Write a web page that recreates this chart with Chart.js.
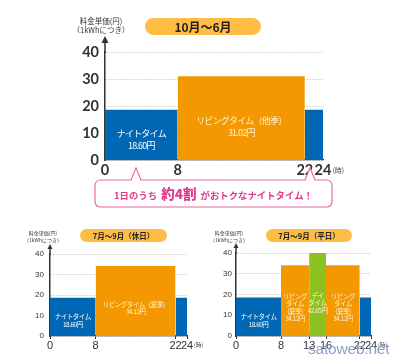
<!DOCTYPE html>
<html>
<head>
<meta charset="utf-8">
<script src="https://cdn.jsdelivr.net/npm/chart.js@4.4.1/dist/chart.umd.min.js"></script>
<style>
html, body { margin: 0; padding: 0; background: #fff; }
#wrap { position: relative; width: 400px; height: 364px; overflow: hidden; font-family: "Noto Sans CJK JP", sans-serif; color: #333; }
canvas { position: absolute; left: 0; top: 0; }
.pill { position: absolute; background: #ffbd45; border-radius: 9px; text-align: center; font-weight: bold; color: #222; white-space: nowrap; }
.ytitle { position: absolute; text-align: center; white-space: nowrap; color: #333; }
#callout { position: absolute; left: 0; top: 0; }
#calloutText { position: absolute; left: 95px; width: 237px; top: 181px; height: 25px; line-height: 25px; text-align: center; color: #e4388d; font-weight: bold; font-size: 9.4px; white-space: nowrap; }
#calloutText b { font-size: 13.5px; margin: 0 2px; }
#mark { position: absolute; left: 308px; top: 340px; font-family: "Liberation Sans", sans-serif; font-size: 15.5px; color: #8d9ec8; letter-spacing: -0.2px; }
</style>
</head>
<body>
<div id="wrap">
  <canvas id="topChart" width="400" height="364"></canvas>
  <canvas id="holidayChart" width="400" height="364"></canvas>
  <canvas id="weekdayChart" width="400" height="364"></canvas>

  <div class="ytitle" style="left:60px;width:82px;top:16px;font-size:7.5px;line-height:9px;">料金単価(円)<br>（1kWhにつき）</div>
  <div class="pill" style="left:145px;top:18px;width:116px;height:17px;line-height:17px;font-size:12px;">10月〜6月</div>

  <div class="ytitle" style="left:23px;width:40px;top:229px;font-size:5px;line-height:7px;">料金単価(円)<br>（1kWhにつき）</div>
  <div class="pill" style="left:80px;top:229px;width:87px;height:13px;line-height:13px;font-size:7.5px;border-radius:7px;">7月〜9月（休日）</div>

  <div class="ytitle" style="left:209px;width:40px;top:229px;font-size:5px;line-height:7px;">料金単価(円)<br>（1kWhにつき）</div>
  <div class="pill" style="left:266px;top:229px;width:86px;height:13px;line-height:13px;font-size:7.5px;border-radius:7px;">7月〜9月（平日）</div>

  <svg id="callout" width="400" height="364">
    <path d="M101,180 H131 L136,168 L141,180 H305 L310,168 L315,180 H326 Q332,180 332,186 V201 Q332,207 326,207 H101 Q95,207 95,201 V186 Q95,180 101,180 Z"
          fill="#fff" stroke="#e86aa9" stroke-width="1.2"/>
  </svg>
  <div id="calloutText">1日のうち <b>約4割</b> がおトクなナイトタイム！</div>

  <div id="mark">satoweb.net</div>
</div>

<script>
// --- data ---
const yTicks = [0, 10, 20, 30, 40];

const topHours = [0, 8, 22, 24];
const topPrices = [18.60, 31.02, 18.60];
const topKinds = ["night", "living", "night"];
const topLabels = ["ナイトタイム\n18.60円", "リビングタイム（他季）\n31.02円", ""];

const holidayHours = [0, 8, 22, 24];
const holidayPrices = [18.60, 34.12, 18.60];
const holidayKinds = ["night", "living", "night"];
const holidayLabels = ["ナイトタイム\n18.60円", "リビングタイム（夏季）\n34.12円", ""];

const weekdayHours = [0, 8, 13, 16, 22, 24];
const weekdayPrices = [18.60, 34.12, 42.65, 34.12, 18.60];
const weekdayKinds = ["night", "living", "day", "living", "night"];
const weekdayLabels = ["ナイトタイム\n18.60円", "リビング\nタイム\n(夏季)\n34.12円", "デイ\nタイム\n42.65円", "リビング\nタイム\n(夏季)\n34.12円", ""];

const colors = { night: "#0067b5", living: "#f39800", day: "#8cc11f" };
const textColors = { night: "#ffffff", living: "#fff3cc", day: "#fff6d8" };

function getDatasets(hours, prices, kinds) {
    // each time band is a flat line filled down to zero
    const datasets = [];
    for (let i = 0; i < prices.length; i++) {
        datasets.push({
            data: [{ x: hours[i], y: prices[i] }, { x: hours[i + 1], y: prices[i] }],
            backgroundColor: colors[kinds[i]],
            borderColor: colors[kinds[i]],
            borderWidth: 0,
            pointRadius: 0,
            fill: "origin",
        });
    }
    return datasets;
}

function drawChart(id, hours, prices, kinds, labels, o) {
    const ctx = document.getElementById(id).getContext("2d");

    const extras = {
        id: "extras_" + id,
        afterDatasetsDraw(chart) {
            const c = chart.ctx;
            const x = chart.scales.x, y = chart.scales.y;
            c.save();
            c.textAlign = "center";
            c.textBaseline = "middle";
            c.font = o.labelFont;
            c.letterSpacing = o.labelSpacing;
            labels.forEach((txt, i) => {
                if (!txt) return;
                const lines = txt.split("\n");
                const cx = x.getPixelForValue((hours[i] + hours[i + 1]) / 2);
                const cy = y.getPixelForValue(Math.min(prices[i], y.max) * 0.4);
                c.fillStyle = textColors[kinds[i]];
                lines.forEach((ln, k) => {
                    c.fillText(ln, cx, cy + (k - (lines.length - 1) / 2) * o.labelLine);
                });
            });
            c.restore();
        },
        afterDraw(chart) {
            const c = chart.ctx;
            const a = chart.chartArea;
            const x = chart.scales.x;
            c.save();
            // axis arrow
            c.strokeStyle = "#333";
            c.fillStyle = "#333";
            c.lineWidth = 1.5;
            c.beginPath();
            c.moveTo(a.left, a.top + 1);
            c.lineTo(a.left, a.top - o.arrowExt + o.arrowSize);
            c.stroke();
            c.beginPath();
            c.moveTo(a.left, a.top - o.arrowExt);
            c.lineTo(a.left - o.arrowSize / 2, a.top - o.arrowExt + o.arrowSize);
            c.lineTo(a.left + o.arrowSize / 2, a.top - o.arrowExt + o.arrowSize);
            c.closePath();
            c.fill();
            // unit after last hour
            c.font = o.tickFont.weight + " " + o.tickFont.size + "px " + o.tickFont.family;
            const last = hours[hours.length - 1];
            const w = c.measureText(String(last)).width;
            c.font = o.unitFont;
            c.fillStyle = "#444";
            c.textAlign = "left";
            c.textBaseline = "middle";
            c.fillText("(時)", x.getPixelForValue(last) + w / 2 + 1, o.unitY);
            c.restore();
        },
    };

    return new Chart(ctx, {
        type: "line",
        data: { datasets: getDatasets(hours, prices, kinds) },
        options: {
            responsive: false,
            animation: false,
            layout: { padding: { left: 0, top: o.area.t, right: 400 - o.area.r, bottom: 0 } },
            plugins: { legend: { display: false }, tooltip: { enabled: false } },
            scales: {
                x: {
                    type: "linear",
                    min: hours[0],
                    max: hours[hours.length - 1],
                    afterBuildTicks: (s) => { s.ticks = hours.map((v) => ({ value: v })); },
                    afterFit: (s) => { s.height = 364 - o.area.b; },
                    grid: { drawOnChartArea: false, drawTicks: o.tickLen > 0, tickLength: o.tickLen, color: "#333" },
                    border: { color: "#333", width: 1.2 },
                    ticks: { font: o.tickFont, color: "#333", padding: o.xPad, maxRotation: 0, autoSkip: false },
                },
                y: {
                    min: 0,
                    max: 40,
                    afterBuildTicks: (s) => { s.ticks = yTicks.map((v) => ({ value: v })); },
                    afterFit: (s) => { s.width = o.area.l; },
                    grid: { drawTicks: false, color: "#b5b5b5", lineWidth: 1 },
                    // in v4 border.dash dashes the grid lines, the axis line stays solid
                    border: { color: "#333", width: 1.5, dash: [1, 2] },
                    ticks: { font: o.yTickFont, color: "#333", padding: o.yPad },
                },
            },
        },
        plugins: [extras],
    });
}

const numFont = "Lato, 'Liberation Sans', sans-serif";
const narrowFont = "'Liberation Sans Narrow', 'Liberation Sans', sans-serif";

drawChart("topChart", topHours, topPrices, topKinds, topLabels, {
    area: { l: 105, t: 52, r: 323, b: 160 },
    tickFont: { family: numFont, size: 14.5, weight: "bold" },
    yTickFont: { family: numFont, size: 14.5, weight: "bold" },
    xPad: 2, yPad: 6, tickLen: 0,
    arrowExt: 16, arrowSize: 7,
    labelFont: "9px 'Noto Sans CJK JP'", labelSpacing: "-0.8px", labelLine: 12,
    unitFont: "7px 'Noto Sans CJK JP'", unitY: 170,
});

drawChart("holidayChart", holidayHours, holidayPrices, holidayKinds, holidayLabels, {
    area: { l: 50, t: 254, r: 187, b: 336 },
    tickFont: { family: narrowFont, size: 11, weight: "normal" },
    yTickFont: { family: narrowFont, size: 8, weight: "normal" },
    xPad: 0, yPad: 6, tickLen: 3,
    arrowExt: 10, arrowSize: 5,
    labelFont: "6.5px 'Noto Sans CJK JP'", labelSpacing: "-0.5px", labelLine: 7.5,
    unitFont: "5.5px 'Noto Sans CJK JP'", unitY: 345,
});

drawChart("weekdayChart", weekdayHours, weekdayPrices, weekdayKinds, weekdayLabels, {
    area: { l: 236, t: 253, r: 371, b: 336 },
    tickFont: { family: narrowFont, size: 11, weight: "normal" },
    yTickFont: { family: narrowFont, size: 8, weight: "normal" },
    xPad: 0, yPad: 4, tickLen: 3,
    arrowExt: 10, arrowSize: 5,
    labelFont: "6.5px 'Noto Sans CJK JP'", labelSpacing: "-0.5px", labelLine: 7.5,
    unitFont: "5.5px 'Noto Sans CJK JP'", unitY: 345,
});
</script>
</body>
</html>
